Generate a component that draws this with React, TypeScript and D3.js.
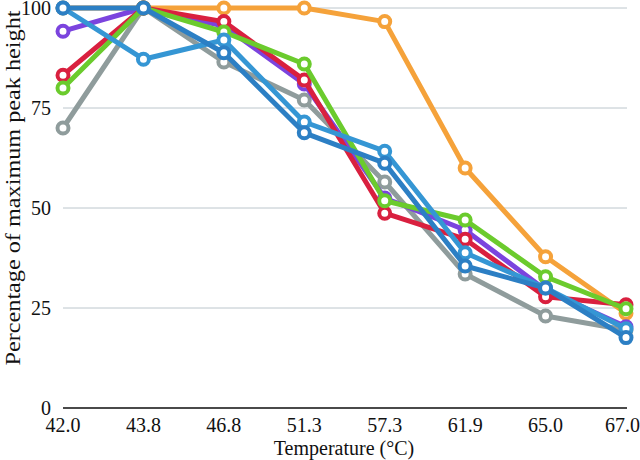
import React from "react";
import * as d3 from "d3";

const categories = ["42.0", "43.8", "46.8", "51.3", "57.3", "61.9", "65.0", "67.0"];
const yTicks = [0, 25, 50, 75, 100];

const grayValues = [70, 100, 86.5, 77, 56.5, 33.5, 23, 19.5];
const orangeValues = [100, 100, 100, 100, 96.6, 60, 37.8, 23.7];
const purpleValues = [94.2, 100, 95.5, 81, 52.5, 44.5, 29.5, 20.3];
const redValues = [83.2, 100, 96.6, 82, 48.7, 42.2, 27.8, 25.8];
const greenValues = [80, 100, 94, 86, 51.8, 47, 32.8, 24.8];
const lightBlueValues = [100, 87.2, 92, 71.5, 64.2, 38.8, 30, 19.8];
const darkBlueValues = [100, 100, 88.8, 68.8, 61.2, 35.5, 30, 17.6];

const seriesNames = ["gray", "orange", "purple", "red", "green", "lightBlue", "darkBlue"];
const seriesValues = [grayValues, orangeValues, purpleValues, redValues, greenValues, lightBlueValues, darkBlueValues];
const seriesColors = ["#8f9c9c", "#f5a23a", "#7b44de", "#d9203f", "#6bcb2d", "#3596d4", "#2c7fc4"];

const W = 640;
const H = 460;
const FONT = "'Liberation Serif', 'Times New Roman', serif";

export default function App() {
  const x = d3.scalePoint<string>().domain(categories).range([63, 626]).padding(0);
  const y = d3.scaleLinear().domain([0, 100]).range([408, 8]);
  const line = d3
    .line<number>()
    .x((_, i) => x(categories[i]) as number)
    .y((d) => y(d));
  const textStyle = { fontFamily: FONT, fontSize: 20 };

  return (
    <svg width={W} height={H} style={{ position: "absolute", left: 0, top: 0, background: "#fff" }}>
      {yTicks.map((t) => (
        <g key={t}>
          {t !== 0 && (
            <line x1={63} x2={627} y1={y(t)} y2={y(t)} stroke="#bcc6cc" strokeWidth={1} />
          )}
          <text x={51} y={y(t)} dy="0.33em" textAnchor="end" style={textStyle} fill="#111">
            {t}
          </text>
        </g>
      ))}
      <line x1={63} x2={627} y1={y(0)} y2={y(0)} stroke="#4a4a4a" strokeWidth={2} />
      {categories.map((c) => (
        <text
          key={c}
          x={Math.min(x(c) as number, 622.5)}
          y={432}
          textAnchor="middle"
          style={textStyle}
          fill="#111"
        >
          {c}
        </text>
      ))}
      <text x={344} y={455} textAnchor="middle" style={textStyle} fill="#111">
        Temperature (°C)
      </text>
      <text
        transform={`translate(20, 188) rotate(-90)`}
        textAnchor="middle"
        style={textStyle}
        fill="#111"
        textLength={355}
        lengthAdjust="spacingAndGlyphs"
      >
        Percentage of maximum peak height
      </text>
      {seriesValues.map((vals, si) => (
        <g key={seriesNames[si]}>
          <path
            d={line(vals) || ""}
            fill="none"
            stroke={seriesColors[si]}
            strokeWidth={5}
            strokeLinejoin="round"
          />
          {vals.map((v, i) => (
            <circle
              key={i}
              cx={x(categories[i])}
              cy={y(v)}
              r={5.5}
              fill="#fff"
              stroke={seriesColors[si]}
              strokeWidth={4}
            />
          ))}
        </g>
      ))}
    </svg>
  );
}
